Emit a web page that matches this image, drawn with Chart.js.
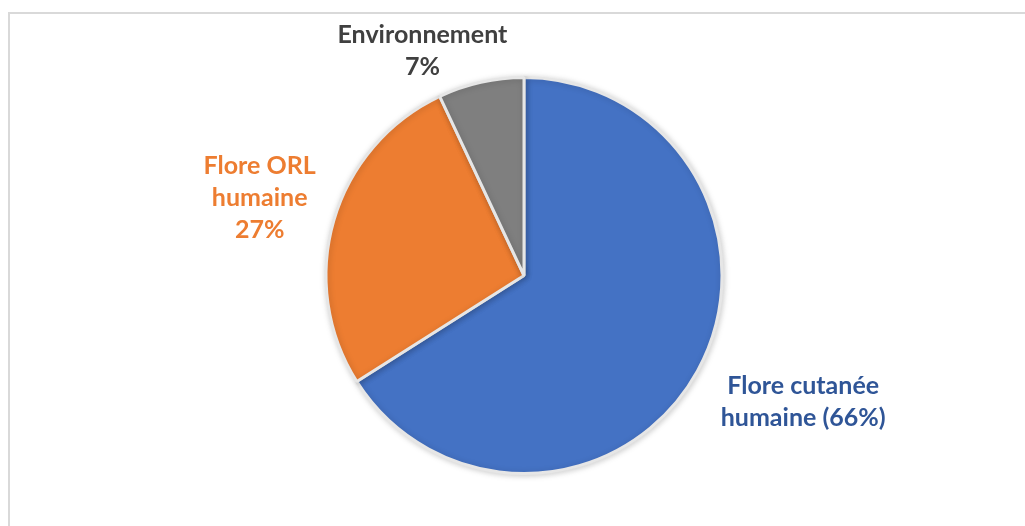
<!DOCTYPE html>
<html>
<head>
<meta charset="utf-8">
<script src="https://cdn.jsdelivr.net/npm/chart.js@4.4.1/dist/chart.umd.min.js"></script>
<style>
  html, body { margin: 0; padding: 0; background: #fff; }
  #frame { position: absolute; left: 8px; top: 12px; width: 1040px; height: 540px;
           border: 2px solid #d9d9d9; box-sizing: border-box; }
  #wrap { position: absolute; left: 0; top: 0; width: 1025px; height: 526px; }
</style>
</head>
<body>
<div id="frame"></div>
<div id="wrap"><canvas id="pie"></canvas></div>
<script>
const categories = ["Flore cutanée humaine", "Flore ORL humaine", "Environnement"];
const shares = [66, 27, 7];
const labelLines = [
  ["Flore cutanée", "humaine (66%)"],
  ["Flore ORL", "humaine", "27%"],
  ["Environnement", "7%"]
];

const sliceColors = ["#4472c4", "#ed7d31", "#7f7f7f"];
const textColors = ["#2f5597", "#ed7d31", "#404040"];
// label block centre, in units of the pie radius from the pie centre
const labelOffsets = [[1.41, 0.635], [-1.335, -0.396], [-0.513, -1.137]];

const pieLabels = {
  id: 'pieLabels',
  afterDatasetsDraw(chart) {
    const ctx = chart.ctx;
    const arcs = chart.getDatasetMeta(0).data;
    ctx.save();
    ctx.font = "bold 25px Lato";
    ctx.textAlign = "center";
    ctx.textBaseline = "alphabetic";
    const lh = 32;
    arcs.forEach((arc, i) => {
      const r = arc.outerRadius;
      const cx = arc.x + labelOffsets[i][0] * r;
      const cy = arc.y + labelOffsets[i][1] * r;
      const lines = labelLines[i];
      ctx.fillStyle = textColors[i];
      lines.forEach((t, j) => {
        ctx.fillText(t, cx, cy + (j - (lines.length - 1) / 2) * lh + 9);
      });
    });
    ctx.restore();
  }
};

const shadow = {
  id: 'shadow',
  beforeDatasetsDraw(chart) {
    chart.ctx.save();
    chart.ctx.shadowColor = "rgba(0,0,0,0.18)";
    chart.ctx.shadowBlur = 6;
    chart.ctx.shadowOffsetX = 1;
    chart.ctx.shadowOffsetY = 1;
  },
  afterDatasetsDraw(chart) {
    chart.ctx.restore();
  }
};

new Chart(document.getElementById('pie'), {
  type: 'pie',
  data: {
    labels: categories,
    datasets: [{
      data: shares,
      backgroundColor: sliceColors,
      borderColor: "#e6e6e6",
      borderWidth: 3
    }]
  },
  options: {
    responsive: true,
    maintainAspectRatio: false,
    animation: false,
    layout: { padding: { left: 324, right: 301, top: 76, bottom: 51 } },
    plugins: {
      legend: { display: false },
      tooltip: { enabled: false },
      title: { display: false }
    }
  },
  plugins: [shadow, pieLabels]
});
</script>
</body>
</html>
